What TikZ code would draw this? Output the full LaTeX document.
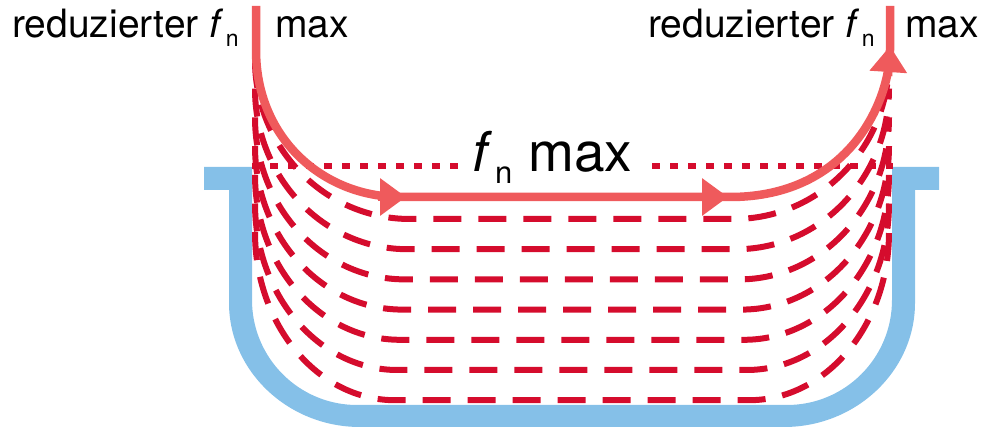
\documentclass[tikz,border=0pt]{standalone}
\usepackage{fontspec}
\setmainfont{TeX Gyre Heros}
\usetikzlibrary{arrows.meta}
\definecolor{vesselblue}{RGB}{133,192,232}
\definecolor{fieldred}{RGB}{213,12,45}
\definecolor{flowred}{RGB}{239,90,92}
\tikzset{
  vessel/.style={fill=vesselblue, draw=none},
  fieldline/.style={draw=fieldred, line width=6pt, dash pattern=on 28pt off 17pt},
  dotline/.style={draw=fieldred, line width=6pt, dash pattern=on 8pt off 10pt},
  flow/.style={draw=flowred, line width=8.5pt},
  flowtip/.style={draw=flowred, fill=flowred, line width=8.5pt, -{Triangle[length=26pt,width=36pt]}},
  lbl/.style={inner sep=0pt, anchor=base west, font=\fontsize{39}{39}\selectfont},
  biglbl/.style={inner sep=0pt, anchor=base west, font=\fontsize{55}{55}\selectfont}
}
\begin{document}
\begin{tikzpicture}[x=1pt,y=-1pt]
\useasboundingbox (0,0) rectangle (989,430);
% vessel
\path[vessel] (204,167) -- (252,167) -- (252,300) .. controls (252,358) and (299,405) .. (357,405)
  -- (787,405) .. controls (845,405) and (892,358) .. (892,300) -- (892,167) -- (939,167)
  -- (939,190) -- (915,190) -- (915,303) .. controls (915,371) and (856,427) .. (784,427)
  -- (360,427) .. controls (288,427) and (229,371) .. (229,303) -- (229,190) -- (204,190) -- cycle;
% field lines
\foreach \i in {0,...,6} {
  \pgfmathsetmacro\yb{219+30.2*\i}
  \pgfmathsetmacro\ry{159+1.5*\i}
  \pgfmathsetmacro\rx{155-2.5*\i}
  \pgfmathsetmacro\yt{\yb-\ry}
  \pgfmathsetmacro\xl{255+\rx}
  \pgfmathsetmacro\xr{889-\rx}
  \pgfmathsetmacro\cy{\yt+0.552*\ry}
  \pgfmathsetmacro\cxl{\xl-0.552*\rx}
  \pgfmathsetmacro\cxr{\xr+0.552*\rx}
  \coordinate (L\i) at (255,\yt);
  \coordinate (BL\i) at (\xl,\yb);
  \coordinate (BR\i) at (\xr,\yb);
  \coordinate (R\i) at (889,\yt);
  \draw[fieldline] (L\i) .. controls (255,\cy) and (\cxl,\yb) .. (BL\i) -- (BR\i)
     .. controls (\cxr,\yb) and (889,\cy) .. (R\i);
}
% dotted line
\coordinate (d1) at (252,166);
\coordinate (d2) at (460,166);
\coordinate (d3) at (652,166);
\coordinate (d4) at (893,166);
\draw[dotline] (d1) -- (d2);
\draw[dotline] (d3) -- (d4);
% flow arrow
\coordinate (s0) at (256,6);
\coordinate (s1) at (256,50);
\coordinate (s2) at (400,197);
\coordinate (s3) at (730,197);
\coordinate (s4) at (890,50);
\coordinate (s5) at (890,6);
\draw[flow] (s0) -- (s1) .. controls (256,140) and (325,197) .. (s2) -- (s3)
   .. controls (850,197) and (890,100) .. (s4) -- (s5);
\coordinate (a1) at (378,197);
\coordinate (a2) at (406,197);
\coordinate (a3) at (700,197);
\coordinate (a4) at (728,197);
\coordinate (a5) at (888,76);
\coordinate (a6) at (890,46);
\draw[flowtip] (a1) -- (a2);
\draw[flowtip] (a3) -- (a4);
\draw[flowtip] (a5) -- (a6);
% labels
\node[lbl] (tl) at (12,38) {reduzierter \textit{f}\kern2pt\raisebox{-9pt}{\fontsize{23}{23}\selectfont n}};
\node[lbl] (tlm) at (275,38) {max};
\node[lbl] (tr) at (648,38) {reduzierter \textit{f}\kern2pt\raisebox{-9pt}{\fontsize{23}{23}\selectfont n}};
\node[lbl] (trm) at (905,38) {max};
\node[biglbl] (mid) at (472,172) {\textit{f}\kern3pt\raisebox{-12pt}{\fontsize{31}{31}\selectfont n}\kern16pt max};
\end{tikzpicture}
\end{document}
